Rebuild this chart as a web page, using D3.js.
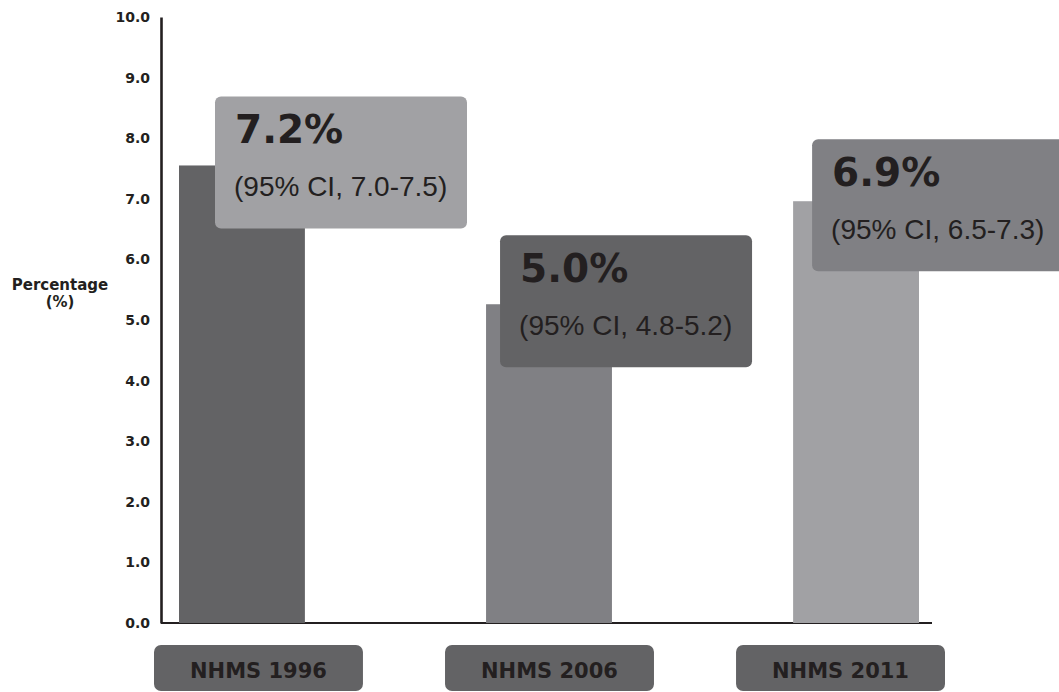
<!DOCTYPE html>
<html>
<head>
<meta charset="utf-8">
<script src="https://cdn.jsdelivr.net/npm/d3@7"></script>
<style>
  html, body { margin: 0; padding: 0; background: #fff; }
  svg { display: block; }
</style>
</head>
<body>
<svg id="chart" width="1059" height="692"></svg>
<script>
// ---- data ----
const categories = ["NHMS 1996", "NHMS 2006", "NHMS 2011"];
const barValues = [7.55, 5.26, 6.96];
const prevalenceLabels = ["7.2%", "5.0%", "6.9%"];
const ciLabels = ["(95% CI, 7.0-7.5)", "(95% CI, 4.8-5.2)", "(95% CI, 6.5-7.3)"];
const yTicks = [0, 1, 2, 3, 4, 5, 6, 7, 8, 9, 10];

// ---- style / layout ----
const barColors = ["#636365", "#808084", "#a1a1a4"];
const boxColors = ["#a1a1a4", "#636365", "#808084"];
const ink = "#231f20";
const labelDx = [36, 14, 19];
const labelDy = [-69, -69, -62];
const boxW = 252, boxH = 132;

const svg = d3.select("#chart");

const y = d3.scaleLinear().domain([0, 10]).range([623, 17]);
const x = d3.scaleBand().domain(categories).range([179, 919]).paddingInner(0.59).paddingOuter(0);
const xl = d3.scaleBand().domain(categories).range([154, 945]).paddingInner(0.282).paddingOuter(0);

// y axis
const yAxis = svg.append("g")
  .attr("transform", "translate(161,0)")
  .call(d3.axisLeft(y).tickValues(yTicks).tickFormat(d3.format(".1f")).tickSize(0).tickSizeOuter(0).tickPadding(11));
yAxis.select(".domain").attr("stroke", ink).attr("stroke-width", 2.6);
yAxis.selectAll("text")
  .attr("fill", ink)
  .style("font-family", "'DejaVu Sans', sans-serif")
  .style("font-weight", "bold")
  .style("font-size", "14px");

// x baseline
svg.append("line")
  .attr("x1", 161).attr("x2", 932)
  .attr("y1", y(0)).attr("y2", y(0))
  .attr("stroke", ink).attr("stroke-width", 2.2);

// y title
const yt = svg.append("text")
  .attr("text-anchor", "middle")
  .attr("fill", ink)
  .style("font-family", "'DejaVu Sans', sans-serif")
  .style("font-weight", "bold")
  .style("font-size", "15px");
yt.append("tspan").attr("x", 60).attr("y", 290).text("Percentage");
yt.append("tspan").attr("x", 60).attr("y", 307).text("(%)");

// bars
svg.append("g").selectAll("rect")
  .data(categories)
  .join("rect")
  .attr("x", d => x(d))
  .attr("width", x.bandwidth())
  .attr("y", (d, i) => y(barValues[i]))
  .attr("height", (d, i) => y(0) - y(barValues[i]))
  .attr("fill", (d, i) => barColors[i]);

// value label boxes
const lab = svg.append("g").selectAll("g")
  .data(categories)
  .join("g")
  .attr("transform", (d, i) => `translate(${x(d) + labelDx[i]},${y(barValues[i]) + labelDy[i]})`);
lab.append("rect")
  .attr("width", boxW).attr("height", boxH)
  .attr("rx", 6).attr("ry", 6)
  .attr("fill", (d, i) => boxColors[i]);
lab.append("text")
  .attr("x", 20).attr("y", 47)
  .attr("fill", ink)
  .style("font-family", "'DejaVu Sans', sans-serif")
  .style("font-weight", "bold")
  .style("font-size", "39px")
  .text((d, i) => prevalenceLabels[i]);
lab.append("text")
  .attr("x", 19).attr("y", 100)
  .attr("fill", ink)
  .style("font-family", "'Liberation Sans', Arial, sans-serif")
  .style("font-size", "28px")
  .text((d, i) => ciLabels[i]);

// category label boxes
const cat = svg.append("g").selectAll("g")
  .data(categories)
  .join("g")
  .attr("transform", d => `translate(${xl(d)},645)`);
cat.append("rect")
  .attr("width", xl.bandwidth()).attr("height", 46)
  .attr("rx", 7).attr("ry", 7)
  .attr("fill", "#636365");
cat.append("text")
  .attr("x", xl.bandwidth() / 2).attr("y", 33)
  .attr("text-anchor", "middle")
  .attr("fill", ink)
  .style("font-family", "'DejaVu Sans', sans-serif")
  .style("font-weight", "bold")
  .style("font-size", "21px")
  .text(d => d);
</script>
</body>
</html>
